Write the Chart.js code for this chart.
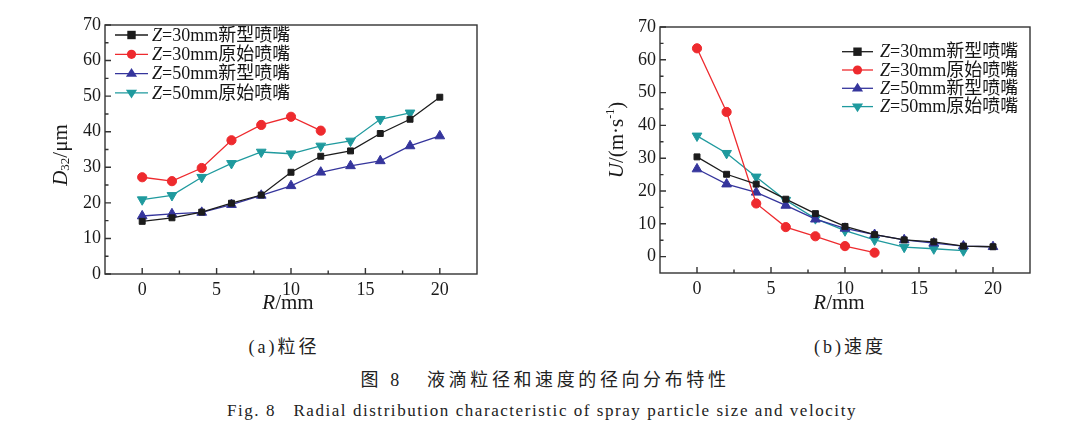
<!DOCTYPE html>
<html><head><meta charset="utf-8">
<script src="https://cdn.jsdelivr.net/npm/chart.js@4/dist/chart.umd.min.js"></script>
<style>
html,body{margin:0;padding:0;background:#fff;}
#wrap{position:relative;width:1080px;height:435px;overflow:hidden;background:#fff;}
.cv{position:absolute;top:0;width:540px;height:320px;}
.cap{position:absolute;white-space:nowrap;font-family:"Liberation Serif","Noto Sans CJK SC",serif;color:#222;transform:translate(-50%,-50%);}
</style></head><body>
<div id="wrap">
<div class="cv" style="left:0"><canvas id="c1" width="540" height="320"></canvas></div>
<div class="cv" style="left:540px"><canvas id="c2" width="540" height="320"></canvas></div>
<div class="cap" style="left:284px;top:345px;font-size:18px;letter-spacing:3px">(a)粒径</div>
<div class="cap" style="left:850px;top:345px;font-size:18px;letter-spacing:3px">(b)速度</div>
<div class="cap" style="left:545px;top:378px;font-size:18px;letter-spacing:3.6px">图 8&nbsp;&nbsp;&nbsp;液滴粒径和速度的径向分布特性</div>
<div class="cap" style="left:542px;top:411px;font-size:17px;letter-spacing:1.55px">Fig. 8&nbsp;&nbsp;&nbsp;Radial distribution characteristic of spray particle size and velocity</div>
</div>
<script>
// ---- data ----
const R = [0, 2, 4, 6, 8, 10, 12, 14, 16, 18, 20];
const seriesLabels = ['=30mm新型喷嘴', '=30mm原始喷嘴', '=50mm新型喷嘴', '=50mm原始喷嘴'];
const d32New30  = [14.8, 15.8, 17.4, 19.9, 22.2, 28.6, 33.1, 34.6, 39.5, 43.5, 49.7];
const d32Orig30 = [27.2, 26.1, 29.8, 37.6, 41.9, 44.2, 40.3];
const d32New50  = [16.3, 16.9, 17.3, 19.5, 22.1, 24.8, 28.6, 30.4, 31.8, 36.0, 38.8];
const d32Orig50 = [20.9, 22.1, 27.2, 31.1, 34.3, 33.8, 36.0, 37.4, 43.5, 45.3];
const uNew30  = [30.4, 25.1, 22.1, 17.5, 13.1, 9.2, 6.7, 5.1, 4.5, 3.2, 3.0];
const uOrig30 = [63.5, 44.1, 16.2, 9.0, 6.2, 3.2, 1.2];
const uNew50  = [26.7, 22.1, 19.6, 15.6, 11.4, 8.6, 6.7, 5.1, 4.1, 3.2, 3.0];
const uOrig50 = [36.8, 31.5, 24.3, 17.2, 11.6, 7.9, 5.1, 2.9, 2.4, 1.8];
const xTicks = [0, 5, 10, 15, 20];
const yTicksD = [0, 10, 20, 30, 40, 50, 60, 70];
const yTicksU = [0, 10, 20, 30, 40, 50, 60, 70];

// ---- styles ----
const COLORS = ['#1c1c1c', '#ee2a2e', '#35359c', '#1f9a9e'];
const MARK = [
  {pointStyle:'rect', pointRadius:4.2, pointRotation:0},
  {pointStyle:'circle', pointRadius:4.6, pointRotation:0},
  {pointStyle:'triangle', pointRadius:5.6, pointRotation:0},
  {pointStyle:'triangle', pointRadius:5.6, pointRotation:180}
];
const SERIF = '"Liberation Serif","Noto Sans CJK SC",serif';

function pts(vals){ return vals.map((v,i)=>({x:R[i], y:v})); }
function mkDatasets(arrs){
  return arrs.map((a,i)=>Object.assign({
    label: seriesLabels[i], data: pts(a),
    borderColor: COLORS[i], backgroundColor: COLORS[i],
    pointBackgroundColor: COLORS[i], pointBorderColor: COLORS[i],
    borderWidth: 1.3, pointBorderWidth: 1, tension: 0, fill:false
  }, MARK[i]));
}

function drawRuns(ctx, runs, cx, cy){
  let total = 0;
  runs.forEach(r=>{ ctx.font = r.font; r.w = ctx.measureText(r.t).width; total += r.w; });
  let x = cx - total/2;
  runs.forEach(r=>{ ctx.font = r.font; ctx.fillText(r.t, x, cy + (r.dy||0)); x += r.w; });
  return x;
}
function drawMarker(ctx, i, x, y){
  const m = MARK[i];
  ctx.fillStyle = COLORS[i]; ctx.strokeStyle = COLORS[i];
  ctx.beginPath();
  const r = m.pointRadius;
  if (m.pointStyle === 'rect'){ ctx.rect(x-r, y-r, 2*r, 2*r); }
  else if (m.pointStyle === 'circle'){ ctx.arc(x, y, r, 0, Math.PI*2); }
  else {
    const s = m.pointRotation === 180 ? -1 : 1;
    ctx.moveTo(x, y - s*r); ctx.lineTo(x - r*0.866*1.15, y + s*r*0.5*1.1); ctx.lineTo(x + r*0.866*1.15, y + s*r*0.5*1.1);
    ctx.closePath();
  }
  ctx.fill();
}

const deco = {
  id: 'deco',
  afterDatasetsDraw(chart, args, o){
    const ctx = chart.ctx, a = chart.chartArea, xs = chart.scales.x, ys = chart.scales.y;
    ctx.save();
    ctx.strokeStyle = '#333'; ctx.lineWidth = 1.4;
    ctx.strokeRect(a.left, a.top, a.right - a.left, a.bottom - a.top);
    ctx.beginPath();
    const xt = o.xTicks, yt = o.yTicks;
    xt.forEach(v=>{ const p = xs.getPixelForValue(v); ctx.moveTo(p, a.bottom); ctx.lineTo(p, a.bottom - 6); });
    for (let k=0;k<xt.length-1;k++){ const p = xs.getPixelForValue((xt[k]+xt[k+1])/2); ctx.moveTo(p, a.bottom); ctx.lineTo(p, a.bottom - 3.5); }
    yt.forEach(v=>{ const p = ys.getPixelForValue(v); ctx.moveTo(a.left, p); ctx.lineTo(a.left + 6, p); });
    for (let k=0;k<yt.length-1;k++){ const p = ys.getPixelForValue((yt[k]+yt[k+1])/2); ctx.moveTo(a.left, p); ctx.lineTo(a.left + 3.5, p); }
    ctx.stroke();

    // axis titles
    ctx.fillStyle = '#1a1a1a'; ctx.textBaseline = 'middle'; ctx.textAlign = 'left';
    drawRuns(ctx, [{t:'R', font:'italic 21px '+SERIF},{t:'/mm', font:'21px '+SERIF}], o.xTitle[0], o.xTitle[1]);
    ctx.save();
    ctx.translate(o.yTitle[0], o.yTitle[1]); ctx.rotate(-Math.PI/2);
    drawRuns(ctx, o.yRuns, 0, 0);
    ctx.restore();

    // legend
    const L = o.legend;
    for (let i=0;i<4;i++){
      const y = L.y + i*L.dy;
      ctx.strokeStyle = COLORS[i]; ctx.lineWidth = 1.3;
      ctx.beginPath(); ctx.moveTo(L.x0, y); ctx.lineTo(L.x1, y); ctx.stroke();
      drawMarker(ctx, i, (L.x0+L.x1)/2, y);
      ctx.fillStyle = '#151515'; ctx.textBaseline = 'middle';
      ctx.font = 'italic 18px ' + SERIF; ctx.fillText('Z', L.tx, y+1);
      const w = ctx.measureText('Z').width;
      ctx.font = '18px ' + SERIF; ctx.fillText(chart.data.datasets[i].label, L.tx + w, y+1);
    }
    ctx.restore();
  }
};

function makeChart(id, arrs, yMin, yTicks, padRight, padTop, yWidth, xHeight, deco_opts){
  return new Chart(document.getElementById(id), {
    type: 'line',
    data: { datasets: mkDatasets(arrs) },
    plugins: [deco],
    options: {
      responsive: false, animation: false, devicePixelRatio: 1,
      layout: { padding: { left: 0, top: padTop, right: padRight, bottom: 0 } },
      plugins: { legend: { display: false }, tooltip: { enabled: false }, deco: deco_opts },
      scales: {
        x: {
          type: 'linear', min: -2.5, max: 22.5,
          afterBuildTicks: s => { s.ticks = xTicks.map(v=>({value:v})); },
          afterFit: s => { s.height = xHeight; },
          grid: { display: false, drawTicks: false },
          border: { display: false },
          ticks: { padding: 5, color: '#1a1a1a', font: { family: SERIF, size: 18 } }
        },
        y: {
          type: 'linear', min: yMin, max: 70,
          afterBuildTicks: s => { s.ticks = yTicks.map(v=>({value:v})); },
          afterFit: s => { s.width = yWidth; },
          grid: { display: false, drawTicks: false },
          border: { display: false },
          ticks: { padding: 4, color: '#1a1a1a', font: { family: SERIF, size: 18 } }
        }
      }
    }
  });
}

makeChart('c1', [d32New30, d32Orig30, d32New50, d32Orig50], 0, yTicksD, 63, 25, 105, 46, {
  xTicks: xTicks, yTicks: yTicksD, xTitle: [288, 303], yTitle: [61, 155],
  yRuns: [{t:'D', font:'italic 21px '+SERIF},{t:'32', font:'13px '+SERIF, dy:5},{t:'/μm', font:'21px '+SERIF}],
  legend: { x0: 115, x1: 148, tx: 152, y: 35, dy: 19.3 }
});
makeChart('c2', [uNew30, uOrig30, uNew50, uOrig50], -5, yTicksU, 50, 27, 120, 47, {
  xTicks: xTicks, yTicks: yTicksU, xTitle: [299, 303], yTitle: [77, 140],
  yRuns: [{t:'U', font:'italic 21px '+SERIF},{t:'/(m·s', font:'21px '+SERIF},{t:'-1', font:'12px '+SERIF, dy:-6},{t:')', font:'21px '+SERIF}],
  legend: { x0: 302, x1: 333, tx: 340, y: 51.7, dy: 18.3 }
});
</script>
</body></html>
